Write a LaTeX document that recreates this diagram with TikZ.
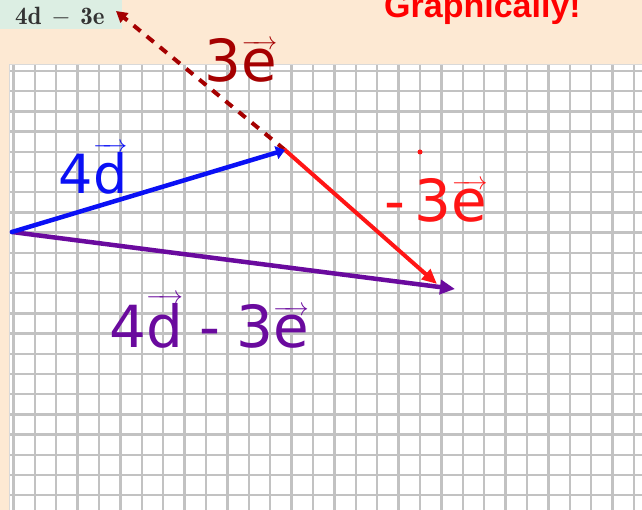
\documentclass[tikz,border=0pt]{standalone}
\usepackage{fontspec}
\usepackage{amsmath}
\usetikzlibrary{arrows.meta}
\newfontfamily\handfont{DejaVu Sans}
\newfontfamily\arialfont{Liberation Sans}
\definecolor{bgpeach}{HTML}{FDE9D3}
\definecolor{boxgreen}{HTML}{DCEEE3}
\definecolor{gridgray}{HTML}{C2C2C2}
\definecolor{vblue}{HTML}{0A10F5}
\definecolor{vred}{HTML}{FF1515}
\definecolor{vpurple}{HTML}{6A0A9E}
\definecolor{vdark}{HTML}{A50000}
\newcommand{\hv}[1]{\ensuremath{\overrightarrow{\text{#1}}}}
\tikzset{
  vecline/.style={line width=4.5pt, line cap=round},
  hand/.style={font=\handfont\fontsize{58}{58}\selectfont, inner sep=0pt, anchor=base},
}
\begin{document}
\begin{tikzpicture}[x=1pt,y=-1pt]
\useasboundingbox (0,0) rectangle (642,510);
\fill[bgpeach] (0,0) rectangle (642,510);
% title box
\fill[boxgreen] (0,0) rectangle (122,29);
\node[anchor=base west, inner sep=0pt, text=black!80, font=\fontsize{25}{25}\selectfont] (title) at (15,25) {$\mathbf{4d}\,-\,\mathbf{3e}$};
\node[anchor=base, inner sep=0pt, text=red, font=\arialfont\bfseries\fontsize{34}{34}\selectfont] (graph) at (482.5,17.3) {Graphically!};
% grid paper
\fill[white] (9.5,65) rectangle (642,510);
\draw[gray!30, line width=1pt] (9.5,510) -- (9.5,65) -- (642,65);
\foreach \i in {0,...,29} {
  \draw[gridgray, line width=2.4pt] (13.3+21.4*\i,65.5) -- (13.3+21.4*\i,510);
}
\foreach \j in {0,...,21} {
  \draw[gridgray, line width=2.4pt] (10,71+20.2*\j) -- (642,71+20.2*\j);
}
% points
\coordinate (O) at (12,232);
\coordinate (D) at (285,150);
\coordinate (R) at (437,284);
\coordinate (P) at (455,289);
\coordinate (E) at (116,11);
% vectors
\draw[vdark, line width=4pt, dash pattern=on 9pt off 8pt, -{Triangle[length=11pt,width=12pt]}] (D) -- (E);
\draw[vpurple, vecline, -{Triangle[length=15pt,width=14pt]}] (O) -- (P);
\draw[vred, line width=4pt, line cap=round, -{Triangle[length=15pt,width=13pt]}] (D) -- (R);
\draw[vblue, vecline, -{Triangle[length=9pt,width=13pt]}] (O) -- (D);
% labels
\node[hand, text=vdark] (l3e) at (241,82) {3\hv{e}};
\node[hand, text=vblue, font=\handfont\fontsize{54}{54}\selectfont] (l4d) at (93,194) {4\hv{d}};
\node[hand, text=vred] (lm3e) at (436,222) {-\,3\hv{e}};
\fill[vred] (420,152) circle (2.5pt);
\node[hand, text=vpurple] (lsum) at (209,348) {4\hv{d}\;-\;3\hv{e}};
\end{tikzpicture}
\end{document}
